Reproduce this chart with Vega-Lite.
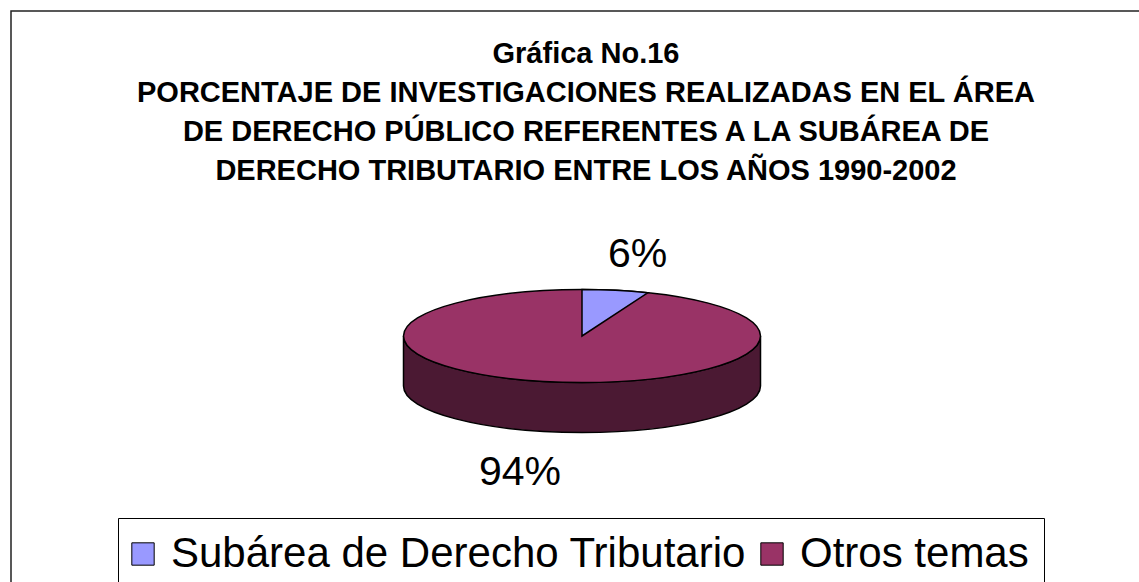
{
  "$schema": "https://vega.github.io/schema/vega-lite/v6.json",
  "autosize": {"type": "none"},
  "width": 1142,
  "height": 650,
  "padding": {"left": 11, "top": 11, "right": -14, "bottom": -79},
  "background": "white",
  "view": {"stroke": "#222222", "strokeWidth": 1.5, "fill": "white"},
  "config": {
    "view": {"stroke": "#222222", "strokeWidth": 1.5, "fill": "white"},
    "font": "Liberation Sans"
  },
  "title": {
    "text": [
      "Gráfica No.16",
      "PORCENTAJE DE INVESTIGACIONES REALIZADAS EN EL ÁREA",
      "DE DERECHO PÚBLICO REFERENTES A LA SUBÁREA DE",
      "DERECHO TRIBUTARIO ENTRE LOS AÑOS 1990-2002"
    ],
    "font": "Liberation Sans",
    "fontSize": 29,
    "fontWeight": "bold",
    "color": "black",
    "lineHeight": 39,
    "anchor": "middle",
    "frame": "group",
    "offset": -175,
    "dx": 4
  },
  "data": {
    "values": [
      {"tema": "Otros temas", "porcentaje": 0.94},
      {"tema": "Subárea de Derecho Tributario", "porcentaje": 0.06}
    ]
  },
  "layer": [
    {
      "transform": [{"filter": "datum.tema === 'Otros temas'"}],
      "mark": {
        "type": "point",
        "filled": true,
        "opacity": 1,
        "size": 4,
        "shape": "M-178.5,0 L-178.5,50 C-178.5,75.68 -98.59,96.5 0,96.5 C98.59,96.5 178.5,75.68 178.5,50 L178.5,0 C178.5,25.68 98.59,46.5 0,46.5 C-98.59,46.5 -178.5,25.68 -178.5,0 Z",
        "fill": "#4B1933",
        "stroke": "black",
        "strokeWidth": 1.5
      },
      "encoding": {}
    },
    {
      "transform": [{"filter": "datum.tema === 'Otros temas'"}],
      "mark": {
        "type": "point",
        "filled": true,
        "opacity": 1,
        "size": 4,
        "shape": "M-178.5,0 C-178.5,-25.68 -98.59,-46.5 0,-46.5 C98.59,-46.5 178.5,-25.68 178.5,0 C178.5,25.68 98.59,46.5 0,46.5 C-98.59,46.5 -178.5,25.68 -178.5,0 Z",
        "fill": "#993366",
        "stroke": "black",
        "strokeWidth": 1.5
      },
      "encoding": {}
    },
    {
      "transform": [{"filter": "datum.tema === 'Subárea de Derecho Tributario'"}],
      "mark": {
        "type": "point",
        "filled": true,
        "opacity": 1,
        "size": 4,
        "shape": "M0,0 L0,-46.5 C22.49,-46.5 44.79,-45.39 65.71,-43.24 Z",
        "fill": "#9999FF",
        "stroke": "black",
        "strokeWidth": 1.5
      },
      "encoding": {}
    },
    {
      "mark": {
        "type": "square",
        "filled": true,
        "opacity": 0,
        "size": 0
      },
      "encoding": {
        "color": {
          "field": "tema",
          "type": "nominal",
          "scale": {
            "domain": ["Subárea de Derecho Tributario", "Otros temas"],
            "range": ["#9999FF", "#993366"]
          },
          "legend": {
            "orient": "none",
            "legendX": 107,
            "legendY": 507,
            "direction": "horizontal",
            "title": null,
            "symbolType": "square",
            "symbolSize": 500,
            "symbolOffset": -11,
            "symbolStrokeColor": "black",
            "symbolStrokeWidth": 1,
            "symbolOpacity": 1,
            "labelFont": "Liberation Sans",
            "labelFontSize": 42,
            "labelColor": "black",
            "labelLimit": 0,
            "labelOffset": 7,
            "columnPadding": 11,
            "padding": 15,
            "strokeColor": "black",
            "fillColor": "white"
          }
        }
      }
    },
    {
      "transform": [{"filter": "datum.tema === 'Subárea de Derecho Tributario'"}],
      "mark": {"type": "text", "dx": 55.5, "dy": -69, "baseline": "alphabetic", "align": "center", "font": "Liberation Sans", "fontSize": 41, "color": "black"},
      "encoding": {"text": {"field": "porcentaje", "type": "quantitative", "format": ".0%"}}
    },
    {
      "transform": [{"filter": "datum.tema === 'Otros temas'"}],
      "mark": {"type": "text", "dx": -62, "dy": 149, "baseline": "alphabetic", "align": "center", "font": "Liberation Sans", "fontSize": 41, "color": "black"},
      "encoding": {"text": {"field": "porcentaje", "type": "quantitative", "format": ".0%"}}
    }
  ]
}
